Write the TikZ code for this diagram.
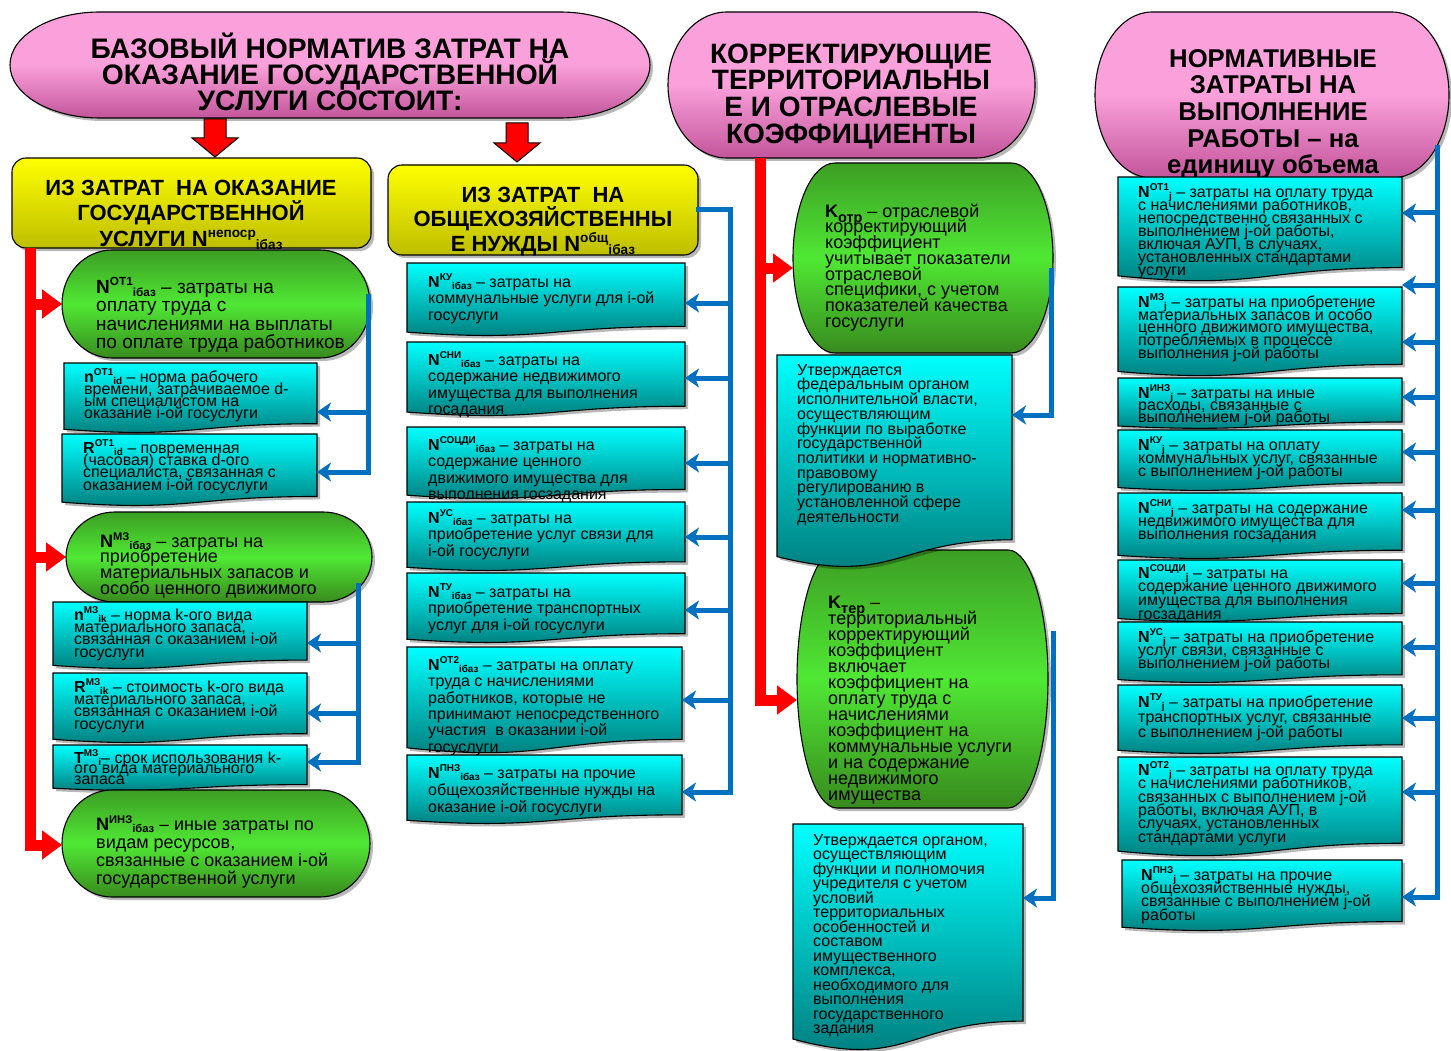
\documentclass[tikz,border=0pt]{standalone}
\usepackage{fontspec}
\setmainfont{Liberation Sans}
\usepackage{graphicx}
\usetikzlibrary{arrows.meta}
\definecolor{cyT}{RGB}{0,255,255}
\definecolor{cyB}{RGB}{0,118,118}
\definecolor{grT}{RGB}{60,158,36}
\definecolor{grM}{RGB}{80,232,52}
\definecolor{grB}{RGB}{56,138,30}
\definecolor{yeT}{RGB}{255,255,0}
\definecolor{yeB}{RGB}{190,190,0}
\definecolor{piT}{RGB}{250,160,218}
\definecolor{piB}{RGB}{195,85,155}
\definecolor{bl}{RGB}{0,112,192}
\definecolor{rd}{RGB}{255,0,0}
\newcommand\sym[3]{\textbf{#1}\raisebox{.4em}{\scalebox{.62}{\bfseries #2}}\raisebox{-.15em}{\scalebox{.62}{\bfseries #3}}}
\newcommand\ksym[2]{\textbf{#1}\raisebox{-.3em}{\scalebox{.8}{\bfseries #2}}}
\def\FS{16}
\tikzset{
 outl/.style={draw=black, line width=1.1pt},
 cyanfill/.style={outl, top color=cyT, bottom color=cyB},
 greenfill/.style={outl, top color=grT, bottom color=grB, middle color=grM},
 yellowfill/.style={outl, top color=yeT, bottom color=yeB},
 pinkfill/.style={outl, top color=piT, bottom color=piB, middle color=piT},
 shadowc/.style={black, opacity=.28},
 hold/.style={inner sep=0pt, outer sep=0pt, draw=none},
 btext/.style={anchor=north west, align=left, inner sep=0pt, font={\fontsize{\FS}{#1}\selectfont\lineskiplimit=-100pt\lineskip=0pt}},
 ttext/.style={anchor=north, align=center, inner sep=0pt, font={\fontsize{\FS}{#1}\selectfont\bfseries\lineskiplimit=-100pt\lineskip=0pt}},
 redl/.style={rd, line width=11pt},
 redarr/.style={redl, -{Triangle[length=20pt,width=28pt]}},
 bline/.style={bl, line width=5pt, line cap=rect},
 barr/.style={bline, -{Stealth[length=14pt,width=19pt,inset=4pt]}},
}
% wavy document box: name x1 y1 x2 y2 tx baseline bs text
\newcommand\docbox[9]{%
  \pgfmathsetmacro\zzH{#5-#3}%
  \pgfmathsetmacro\zzA{#3+0.88*\zzH}%
  \pgfmathsetmacro\zzB{#3+1.10*\zzH}%
  \pgfmathsetmacro\zzC{#3+0.96*\zzH}%
  \pgfmathsetmacro\zzM{(#2+#4)/2}%
  \pgfmathsetmacro\zzY{(#3+#5)/2}%
  \pgfmathsetmacro\zzW{#4-#2}%
  \pgfmathsetmacro\zzT{#7-\FS}%
  \def\zzpath{(#2,#3) -- (#4,#3) -- (#4,\zzA) .. controls (\zzM,\zzA) and (\zzM,\zzB) .. (#2,\zzC) -- cycle}%
  \fill[shadowc,xshift=3pt,yshift=-3pt] \zzpath;
  \shade[cyanfill] \zzpath;
  \node[hold, minimum width=\zzW pt, minimum height=\zzH pt] (#1) at (\zzM,\zzY) {};
  \node[btext=#8] (#1-t) at (#6,\zzT) {\rule{0pt}{\FS pt}#9};
}
% terminator shape: name x1 y1 x2 y2 rx style
\newcommand\termbox[7]{%
  \pgfmathsetmacro\zzL{#2+#6}\pgfmathsetmacro\zzR{#4-#6}%
  \pgfmathsetmacro\zzK{0.5523*#6}%
  \pgfmathsetmacro\zzQ{0.5523*(#5-#3)/2}%
  \pgfmathsetmacro\zzY{(#3+#5)/2}%
  \pgfmathsetmacro\zzRK{\zzR+\zzK}\pgfmathsetmacro\zzLK{\zzL-\zzK}%
  \pgfmathsetmacro\zzU{\zzY-\zzQ}\pgfmathsetmacro\zzD{\zzY+\zzQ}%
  \def\zzpath{(\zzL,#3) -- (\zzR,#3) .. controls (\zzRK,#3) and (#4,\zzU) .. (#4,\zzY) .. controls (#4,\zzD) and (\zzRK,#5) .. (\zzR,#5) -- (\zzL,#5) .. controls (\zzLK,#5) and (#2,\zzD) .. (#2,\zzY) .. controls (#2,\zzU) and (\zzLK,#3) .. (\zzL,#3) -- cycle}%
  \fill[shadowc,xshift=3pt,yshift=-3pt] \zzpath;
  \shade[#7] \zzpath;
  \pgfmathsetmacro\zzW{#4-#2}\pgfmathsetmacro\zzH{#5-#3}\pgfmathsetmacro\zzM{(#2+#4)/2}%
  \node[hold, minimum width=\zzW pt, minimum height=\zzH pt] (#1) at (\zzM,\zzY) {};
}
% rounded box: name x1 y1 x2 y2
\newcommand\rbox[5]{%
  \fill[shadowc,xshift=3pt,yshift=-3pt,rounded corners=14pt] (#2,#3) rectangle (#4,#5);
  \shade[yellowfill,rounded corners=14pt] (#2,#3) rectangle (#4,#5);
  \pgfmathsetmacro\zzW{#4-#2}\pgfmathsetmacro\zzH{#5-#3}\pgfmathsetmacro\zzM{(#2+#4)/2}\pgfmathsetmacro\zzY{(#3+#5)/2}%
  \node[hold, minimum width=\zzW pt, minimum height=\zzH pt] (#1) at (\zzM,\zzY) {};
}
\newcommand\barrow[3]{\coordinate (ba) at (#1,#2); \draw[barr] (ba) -- (ba -| #3.east);}
\begin{document}
\begin{tikzpicture}[x=1pt,y=-1pt]
\useasboundingbox (0,0) rectangle (1451,1051);
\fill[white] (0,0) rectangle (1451,1051);

% ---------- pink titles
\termbox{p1}{10}{12}{650}{118}{90}{pinkfill}
\termbox{p2}{668}{12}{1035}{158}{59}{pinkfill}
\termbox{p3}{1095}{12}{1449}{178}{57}{pinkfill}
\def\FS{28.2}
\node[ttext=26] (p1-t) at (330,29.8) {\rule{0pt}{28.2pt}БАЗОВЫЙ НОРМАТИВ ЗАТРАТ НА\\ОКАЗАНИЕ ГОСУДАРСТВЕННОЙ\\УСЛУГИ СОСТОИТ:};
\def\FS{28}
\node[ttext=26.7] (p2-t) at (851,35) {\rule{0pt}{28pt}КОРРЕКТИРУЮЩИЕ\\ТЕРРИТОРИАЛЬНЫ\\Е И ОТРАСЛЕВЫЕ\\КОЭФФИЦИЕНТЫ};
\def\FS{25.7}
\node[ttext=26.7] (p3-t) at (1273,41.3) {\rule{0pt}{25.7pt}НОРМАТИВНЫЕ\\ЗАТРАТЫ НА\\ВЫПОЛНЕНИЕ\\РАБОТЫ – на\\единицу объема};

% ---------- red block arrows
\filldraw[fill=rd, draw=black, line width=1pt] (204,119) -- (226,119) -- (226,138) -- (238,138) -- (215,157) -- (192,138) -- (204,138) -- cycle;
\filldraw[fill=rd, draw=black, line width=1pt] (506,123) -- (528,123) -- (528,143) -- (540,143) -- (517,162) -- (494,143) -- (506,143) -- cycle;

% ---------- yellow boxes
\rbox{y1}{12}{158}{371}{248}
\rbox{y2}{388}{165}{698}{255}
\def\FS{22}
\node[ttext=25.5] (y1-t) at (191,173) {\rule{0pt}{22pt}ИЗ ЗАТРАТ~ НА ОКАЗАНИЕ\\ГОСУДАРСТВЕННОЙ\\УСЛУГИ \sym{N}{непоср}{iбаз}};
\node[ttext=24.5] (y2-t) at (543,180) {\rule{0pt}{22pt}ИЗ ЗАТРАТ~ НА\\ОБЩЕХОЗЯЙСТВЕННЫ\\Е НУЖДЫ \sym{N}{общ}{iбаз}};

% ---------- column 1
\termbox{g1}{62}{250}{370}{358}{50}{greenfill}
\def\FS{19}
\node[btext=18.5] (g1-t) at (96,274) {\rule{0pt}{19pt}\sym{N}{ОТ1}{iбаз} – затраты на\\оплату труда с\\начислениями на выплаты\\по оплате труда работников};
\def\FS{16}
\docbox{c1a}{64}{363}{317}{432}{84}{382}{12.1}{\sym{n}{ОТ1}{id} – норма рабочего\\времени, затрачиваемое d-\\ым специалистом на\\оказание i-ой госуслуги}
\docbox{c1b}{62}{434}{317}{505}{83}{453}{12.3}{\sym{R}{ОТ1}{id} – повременная\\(часовая) ставка d-ого\\специалиста, связанная с\\оказанием i-ой госуслуги}
\termbox{g2}{66}{512}{372}{602}{49}{greenfill}
\def\FS{18}
\node[btext=15.7] (g2-t) at (100,529) {\rule{0pt}{18pt}\sym{N}{МЗ}{iбаз} – затраты на\\приобретение\\материальных запасов и\\особо ценного движимого};
\def\FS{16}
\docbox{c2a}{53}{602}{307}{668}{74}{620}{12.3}{\sym{n}{МЗ}{ik} – норма k-ого вида\\материального запаса,\\связанная с оказанием i-ой\\госуслуги}
\docbox{c2b}{53}{673}{307}{742}{74}{692}{12.3}{\sym{R}{МЗ}{ik} – стоимость k-ого вида\\материального запаса,\\связанная с оказанием i-ой\\госуслуги}
\docbox{c2c}{53}{745}{307}{790}{74}{763}{10.5}{\sym{T}{МЗ}{i}– срок использования k-\\ого вида материального\\запаса}
\termbox{g3}{62}{790}{370}{897}{50}{greenfill}
\def\FS{18}
\node[btext=18] (g3-t) at (96,812) {\rule{0pt}{18pt}\sym{N}{ИНЗ}{iбаз} – иные затраты по\\видам ресурсов,\\связанные с оказанием i-ой\\государственной услуги};

% ---------- column 2
\def\FS{16}
\docbox{d1}{407}{263}{685}{335}{428}{287}{16.5}{\sym{N}{КУ}{iбаз} – затраты на\\коммунальные услуги для i-ой\\госуслуги}
\docbox{d2}{407}{342}{685}{415}{428}{365}{16.4}{\sym{N}{СНИ}{iбаз} – затраты на\\содержание недвижимого\\имущества для выполнения\\госадания}
\docbox{d3}{407}{427}{685}{498}{428}{450}{16.4}{\sym{N}{СОЦДИ}{iбаз} – затраты на\\содержание ценного\\движимого имущества для\\выполнения госзадания}
\docbox{d4}{407}{502}{685}{570}{428}{523}{16.7}{\sym{N}{УС}{iбаз} – затраты на\\приобретение услуг связи для\\i-ой госуслуги}
\docbox{d5}{407}{573}{685}{642}{428}{597}{16.5}{\sym{N}{ТУ}{iбаз} – затраты на\\приобретение транспортных\\услуг для i-ой госуслуги}
\docbox{d6}{407}{647}{682}{752}{428}{670}{16.4}{\sym{N}{ОТ2}{iбаз} – затраты на оплату\\труда с начислениями\\работников, которые не\\принимают непосредственного\\участия~ в оказании i-ой\\госуслуги}
\docbox{d7}{407}{755}{682}{823}{428}{778}{17}{\sym{N}{ПНЗ}{iбаз} – затраты на прочие\\общехозяйственные нужды на\\оказание i-ой госуслуги}

% ---------- column 3
\termbox{kotr}{793}{163}{1053}{353}{42}{greenfill}
\def\FS{18}
\node[btext=15.7] (kotr-t) at (825,199) {\rule{0pt}{18pt}\ksym{K}{отр} – отраслевой\\корректирующий\\коэффициент\\учитывает показатели\\отраслевой\\специфики, с учетом\\показателей качества\\госуслуги};
\termbox{kter}{797}{550}{1048}{808}{40}{greenfill}
\node[btext=16] (kter-t) at (828,590) {\rule{0pt}{18pt}\ksym{K}{тер} –\\территориальный\\корректирующий\\коэффициент\\включает\\коэффициент на\\оплату труда с\\начислениями\\коэффициент на\\коммунальные услуги\\и на содержание\\недвижимого\\имущества};
\def\FS{16}
\docbox{k1}{777}{355}{1012}{565}{797}{375}{14.7}{Утверждается\\федеральным органом\\исполнительной власти,\\осуществляющим\\функции по выработке\\государственной\\политики и нормативно-\\правовому\\регулированию в\\установленной сфере\\деятельности}
\docbox{k2}{793}{824}{1023}{1048}{813}{845}{14.5}{Утверждается органом,\\осуществляющим\\функции и полномочия\\учредителя с учетом\\условий\\территориальных\\особенностей и\\составом\\имущественного\\комплекса,\\необходимого для\\выполнения\\государственного\\задания}

% ---------- column 4
\docbox{r1}{1118}{177}{1402}{280}{1138}{197}{13}{\sym{N}{ОТ1}{j} – затраты на оплату труда\\с начислениями работников,\\непосредственно связанных с\\выполнением j-ой работы,\\включая АУП, в случаях,\\установленных стандартами\\услуги}
\docbox{r2}{1118}{287}{1402}{375}{1138}{307}{12.8}{\sym{N}{МЗ}{j} – затраты на приобретение\\материальных запасов и особо\\ценного движимого имущества,\\потребляемых в процессе\\выполнения j-ой работы}
\docbox{r3}{1118}{378}{1402}{428}{1138}{398}{12}{\sym{N}{ИНЗ}{j} – затраты на иные\\расходы, связанные с\\выполнением j-ой работы}
\docbox{r4}{1118}{430}{1402}{490}{1138}{450}{13.3}{\sym{N}{КУ}{j} – затраты на оплату\\коммунальных услуг, связанные\\с выполнением j-ой работы}
\docbox{r5}{1118}{493}{1402}{558}{1138}{513}{13.3}{\sym{N}{СНИ}{j} – затраты на содержание\\недвижимого имущества для\\выполнения госзадания}
\docbox{r6}{1118}{560}{1402}{621}{1138}{578}{13.7}{\sym{N}{СОЦДИ}{j} – затраты на\\содержание ценного движимого\\имущества для выполнения\\госзадания}
\docbox{r7}{1118}{622}{1402}{682}{1138}{642}{13}{\sym{N}{УС}{j} – затраты на приобретение\\услуг связи, связанные с\\выполнением j-ой работы}
\docbox{r8}{1118}{685}{1402}{753}{1138}{707}{15}{\sym{N}{ТУ}{j} – затраты на приобретение\\транспортных услуг, связанные\\с выполнением j-ой работы}
\docbox{r9}{1118}{757}{1402}{855}{1138}{775}{13.4}{\sym{N}{ОТ2}{j} – затраты на оплату труда\\с начислениями работников,\\связанных с выполнением j-ой\\работы, включая АУП, в\\случаях, установленных\\стандартами услуги}
\docbox{r10}{1122}{860}{1402}{930}{1141}{880}{13.3}{\sym{N}{ПНЗ}{j} – затраты на прочие\\общехозяйственные нужды,\\связанные с выполнением j-ой\\работы}

% ---------- red connectors
\coordinate (rx1) at (30,845);
\draw[redarr] (y1.south -| rx1) -- (rx1) -- (g3.west |- rx1);
\draw[redarr] (g1.west -| rx1) -- (g1.west);
\draw[redarr] (g2.west -| rx1) -- (g2.west);
\coordinate (rx3) at (760,700);
\coordinate (rx3a) at (760,268);
\draw[redarr] (p2.south -| rx3) -- (rx3) -- (kter.west |- rx3);
\draw[redarr] (rx3a) -- (rx3a -| kotr.west);

% ---------- blue connectors
\coordinate (t1a) at (368,296); \coordinate (t1b) at (368,472);
\draw[bline] (t1a) -- (t1b);
\barrow{368}{412}{c1a}
\barrow{368}{472}{c1b}
\coordinate (t2a) at (358,585); \coordinate (t2b) at (358,762);
\draw[bline] (t2a) -- (t2b);
\barrow{358}{643}{c2a}
\barrow{358}{713}{c2b}
\barrow{358}{762}{c2c}
\coordinate (t3) at (730,792);
\draw[bline] (y2.east) -- (y2.east -| t3) -- (t3);
\barrow{730}{303}{d1}
\barrow{730}{378}{d2}
\barrow{730}{463}{d3}
\barrow{730}{537}{d4}
\barrow{730}{610}{d5}
\barrow{730}{700}{d6}
\barrow{730}{792}{d7}
\coordinate (t4a) at (1051,270); \coordinate (t4b) at (1051,415);
\draw[bline] (t4a) -- (t4b);
\barrow{1051}{415}{k1}
\coordinate (t5a) at (1053,633); \coordinate (t5b) at (1053,898);
\draw[bline] (t5a) -- (t5b);
\barrow{1053}{898}{k2}
\coordinate (t6a) at (1437,148); \coordinate (t6b) at (1437,897);
\draw[bline] (t6a) -- (t6b);
\barrow{1437}{213}{r1}
\barrow{1437}{285}{r2}
\barrow{1437}{342}{r2}
\barrow{1437}{397}{r3}
\barrow{1437}{452}{r4}
\barrow{1437}{510}{r5}
\barrow{1437}{583}{r6}
\barrow{1437}{647}{r7}
\barrow{1437}{718}{r8}
\barrow{1437}{792}{r9}
\barrow{1437}{897}{r10}
\end{tikzpicture}
\end{document}
